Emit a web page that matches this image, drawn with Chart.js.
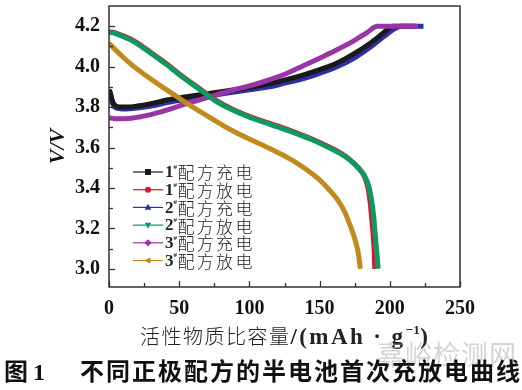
<!DOCTYPE html>
<html><head><meta charset="utf-8">
<script src="https://cdn.jsdelivr.net/npm/chart.js@4.4.0/dist/chart.umd.min.js"></script>
<style>
html,body{margin:0;padding:0;background:#fff;overflow:hidden;}
#wrap{position:relative;width:522px;height:390px;}
canvas{position:absolute;left:0;top:0;}
.abs{position:absolute;white-space:nowrap;line-height:1;}
#xt{left:140px;top:325px;color:#222;}
#xt .cn{font-family:"Noto Sans CJK SC",sans-serif;font-weight:300;font-size:20px;letter-spacing:1.5px;}
#xt .en{font-family:"Liberation Serif",serif;font-weight:bold;font-size:23px;letter-spacing:2.4px;}
#xt sup{font-size:13px;vertical-align:10px;line-height:0;letter-spacing:0.5px;}
#wm{left:377px;top:340px;font-family:"Noto Sans CJK SC",sans-serif;font-size:27px;color:rgba(150,150,150,0.42);letter-spacing:1px;}
.cap{top:358px;font-size:24px;font-weight:bold;color:#111;}
#c1{left:4px;font-family:"Noto Sans CJK SC",sans-serif;}
#c2{left:33px;font-family:"Liberation Serif",serif;top:360px;}
#c3{left:80px;font-family:"Noto Sans CJK SC",sans-serif;letter-spacing:2px;}
</style></head><body>
<div id="wrap">
<canvas id="c" width="522" height="390"></canvas>
<div id="xt" class="abs"><span class="cn">活性物质比容量</span><span class="en">/(mAh · g<sup>−1</sup>)</span></div>
<div id="wm" class="abs">嘉峪检测网</div>
<div id="c1" class="abs cap">图</div>
<div id="c2" class="abs cap">1</div>
<div id="c3" class="abs cap">不同正极配方的半电池首次充放电曲线</div>
</div>
<script>
// ---- data ----
const seriesNums = ['1','1','2','2','3','3'];
const seriesTexts = ['配方充电','配方放电','配方充电','配方放电','配方充电','配方放电'];
const seriesColors = ['#1a1a1a','#e4122c','#2e2ea6','#0b9b5f','#9a35a8','#c08a1c'];
const seriesMarkers = ['rect','circle','triangle','triangleDown','rectRot','triangleLeft'];

const charge1X = [0,1,2,4,8,12,20,30,41,52,64,76,88,100,114,126,138,150,162,174,186,196,202,218];
const charge1Y = [3.885,3.87,3.84,3.81,3.80,3.80,3.805,3.817,3.835,3.848,3.86,3.872,3.884,3.897,3.915,3.935,3.958,3.985,4.017,4.062,4.116,4.17,4.2,4.2];

const discharge1X = [0,4,8,16,25,33,41,52,64,76,88,100,110,121,133,145,155,164,172,178,182,184.5,186,187,188,188.8,189.3];
const discharge1Y = [4.172,4.168,4.158,4.134,4.094,4.054,4.014,3.954,3.894,3.834,3.789,3.754,3.729,3.704,3.674,3.641,3.609,3.577,3.538,3.497,3.455,3.40,3.33,3.26,3.18,3.10,3.0];

const charge2X = [0,1,2,4,8,12,20,30,41,52,64,76,88,100,114,126,138,150,162,174,186,196,204,208,224];
const charge2Y = [3.88,3.865,3.83,3.80,3.792,3.79,3.795,3.805,3.822,3.835,3.848,3.86,3.873,3.885,3.90,3.92,3.94,3.967,3.998,4.04,4.096,4.15,4.19,4.2,4.2];

const discharge2X = [0,4,8,16,25,33,41,52,64,76,88,100,110,121,133,145,155,164,172,178,182,185,187,188.5,189.5,190.5,191.7];
const discharge2Y = [4.17,4.165,4.155,4.13,4.09,4.05,4.01,3.95,3.89,3.83,3.785,3.75,3.725,3.70,3.67,3.637,3.605,3.573,3.535,3.495,3.46,3.41,3.34,3.26,3.18,3.10,3.0];

const charge3X = [0,5,16,28,41,52,64,76,88,100,114,126,138,150,162,174,184,191,220];
const charge3Y = [3.748,3.742,3.745,3.76,3.785,3.81,3.835,3.86,3.884,3.905,3.935,3.965,4.003,4.042,4.082,4.126,4.17,4.2,4.2];

const discharge3X = [0,8,16,28,40,54,65,75,86,98,110,121,131,141,150,157,163,168,172,175,177.5,179];
const discharge3Y = [4.116,4.06,4.01,3.948,3.89,3.826,3.777,3.735,3.69,3.648,3.61,3.573,3.535,3.489,3.44,3.39,3.34,3.28,3.21,3.15,3.08,3.0];

const xTickValues = [0,50,100,150,200,250];
const xMinorValues = [25,75,125,175,225];
const yTickValues = [3.0,3.2,3.4,3.6,3.8,4.0,4.2];
const yMinorValues = [3.1,3.3,3.5,3.7,3.9,4.1];

const seriesX = [charge1X,discharge1X,charge2X,discharge2X,charge3X,discharge3X];
const seriesY = [charge1Y,discharge1Y,charge2Y,discharge2Y,charge3Y,discharge3Y];
const drawOrder = [4,2,5,0,3,1]; // lower = on top

const datasets = seriesX.map((xs,i)=>({
  label: seriesNums[i]+'#'+seriesTexts[i],
  data: xs.map((x,j)=>({x:x,y:seriesY[i][j]})),
  borderColor: seriesColors[i],
  backgroundColor: seriesColors[i],
  borderWidth: 5,
  pointRadius: 0,
  cubicInterpolationMode: 'monotone',
  fill: false,
  order: drawOrder[i]
}));

const serif = "'Liberation Serif','Times New Roman',serif";
const cjk = "'Noto Sans CJK SC',sans-serif";

function marker(ctx, type, x, y, r){
  ctx.beginPath();
  if(type==='rect'){ctx.rect(x-r,y-r,2*r,2*r);}
  else if(type==='circle'){ctx.arc(x,y,r,0,Math.PI*2);}
  else if(type==='triangle'){ctx.moveTo(x,y-r*1.2);ctx.lineTo(x+r*1.1,y+r*0.8);ctx.lineTo(x-r*1.1,y+r*0.8);ctx.closePath();}
  else if(type==='triangleDown'){ctx.moveTo(x,y+r*1.2);ctx.lineTo(x+r*1.1,y-r*0.8);ctx.lineTo(x-r*1.1,y-r*0.8);ctx.closePath();}
  else if(type==='rectRot'){ctx.moveTo(x,y-r*1.2);ctx.lineTo(x+r*1.2,y);ctx.lineTo(x,y+r*1.2);ctx.lineTo(x-r*1.2,y);ctx.closePath();}
  else if(type==='triangleLeft'){ctx.moveTo(x-r*1.2,y);ctx.lineTo(x+r*0.8,y-r*1.1);ctx.lineTo(x+r*0.8,y+r*1.1);ctx.closePath();}
  ctx.fill();
}

const framePlugin = {
  id:'frame',
  afterDraw(chart){
    const {ctx, chartArea:a, scales:{x,y}} = chart;
    ctx.save();
    ctx.strokeStyle='#333'; ctx.lineWidth=1.5;
    ctx.strokeRect(a.left, a.top, a.right-a.left, a.bottom-a.top);
    ctx.lineWidth=1.3;
    const ln=(x1,y1,x2,y2)=>{ctx.beginPath();ctx.moveTo(x1,y1);ctx.lineTo(x2,y2);ctx.stroke();};
    xTickValues.forEach(v=>{const p=Math.round(x.getPixelForValue(v))+0.5; ln(p,a.bottom,p,a.bottom-6);});
    xMinorValues.forEach(v=>{const p=Math.round(x.getPixelForValue(v))+0.5; ln(p,a.bottom,p,a.bottom-4);});
    yTickValues.forEach(v=>{const p=Math.round(y.getPixelForValue(v))+0.5; ln(a.left,p,a.left+6,p);});
    yMinorValues.forEach(v=>{const p=Math.round(y.getPixelForValue(v))+0.5; ln(a.left,p,a.left+4,p);});
    // legend
    const lx0 = a.left+24, lx1 = a.left+54, mx = a.left+39, tx = a.left+56;
    for(let i=0;i<6;i++){
      const yy = 172 + i*17.7;
      ctx.strokeStyle = seriesColors[i]; ctx.fillStyle = seriesColors[i]; ctx.lineWidth = 1.2;
      ln(lx0,yy,lx1,yy);
      marker(ctx, seriesMarkers[i], mx, yy, 3);
      ctx.fillStyle='#222';
      ctx.textBaseline='middle'; ctx.textAlign='left';
      ctx.font = 'bold 17px '+serif;
      ctx.fillText(seriesNums[i], tx, yy+1);
      ctx.font = 'bold 7px '+serif;
      ctx.fillText('#', tx+8.5, yy-5);
      ctx.font = '300 17px '+cjk;
      const chars = Array.from(seriesTexts[i]);
      chars.forEach((ch,k)=>ctx.fillText(ch, tx+12.5+k*19.3, yy+1));
    }
    ctx.restore();
  }
};

new Chart(document.getElementById('c'), {
  type:'line',
  data:{datasets:datasets},
  options:{
    responsive:false,
    animation:false,
    layout:{padding:{top:6,right:62,left:0,bottom:0}},
    plugins:{legend:{display:false},tooltip:{enabled:false}},
    scales:{
      x:{
        type:'linear', min:0, max:250,
        afterBuildTicks:s=>{s.ticks = xTickValues.map(v=>({value:v}));},
        afterFit:s=>{s.height = 103; s.paddingLeft = 0; s.paddingRight = 0;},
        grid:{display:false, drawTicks:false},
        border:{display:false},
        ticks:{padding:10, color:'#111', font:{family:serif,size:20,weight:'bold'}, maxRotation:0, callback:v=>String(v)}
      },
      y:{
        type:'linear', min:2.91, max:4.30,
        afterBuildTicks:s=>{s.ticks = yTickValues.map(v=>({value:v}));},
        afterFit:s=>{s.width = 109; s.paddingTop = 0; s.paddingBottom = 0;},
        grid:{display:false, drawTicks:false},
        border:{display:false},
        ticks:{padding:9, color:'#111', font:{family:serif,size:20,weight:'bold'}, callback:v=>Number(v).toFixed(1)},
        title:{display:true, text:'V/V', color:'#111', padding:{top:45,bottom:0}, font:{family:serif,size:22,weight:'bold',style:'italic'}}
      }
    }
  },
  plugins:[framePlugin]
});
</script>
</body></html>
